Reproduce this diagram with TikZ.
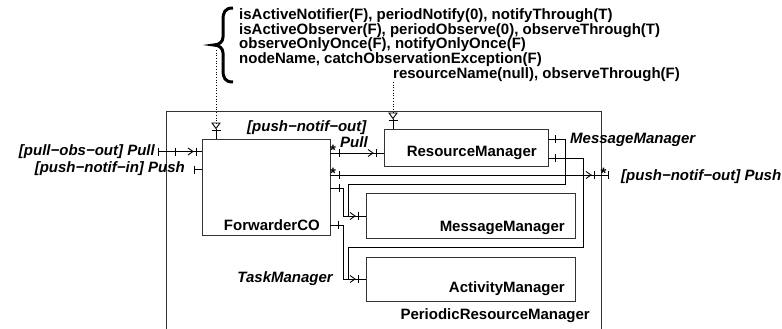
\documentclass[tikz,border=0pt]{standalone}
\usepackage{fontspec}
\setmainfont{Liberation Sans}
\newcommand\PortBar[2]{\draw[con] (#1,#2-4) -- (#1,#2+4);}
\newcommand\OpenArr[2]{\draw[con] (#1-5,#2-3.5) -- (#1,#2) -- (#1-5,#2+3.5);}
\newcommand\TopPort[2]{\draw[con] (#1-4,#2) -- (#1+4,#2) -- (#1,#2+5.5) -- cycle; \draw[con] (#1-4.5,#2+7) -- (#1+4.5,#2+7);}
\begin{document}
\begin{tikzpicture}[x=1pt,y=-1pt,
  box/.style={draw=black!80, line width=0.9pt, rectangle, inner sep=0pt},
  con/.style={draw=black, line width=0.9pt},
  lbl/.style={font=\fontsize{15}{15}\selectfont\bfseries, inner sep=0pt},
  ilbl/.style={font=\fontsize{15}{15}\selectfont\bfseries\itshape, inner sep=0pt},
  dotl/.style={draw=black, dotted, line width=0.7pt}]
\useasboundingbox (0,0) rectangle (782,329);

% boxes
\node[box, minimum width=435.7pt, minimum height=225pt] (prm) at (383.85,223.5) {};
\node[box, minimum width=128pt, minimum height=96pt] (fwd) at (266,187) {};
\node[box, minimum width=164pt, minimum height=36.7pt] (rm) at (466,147.65) {};
\node[box, minimum width=209pt, minimum height=45pt] (mm) at (470.5,215.8) {};
\node[box, minimum width=209pt, minimum height=44.4pt] (am) at (470.5,279.5) {};

% box labels
\node[lbl, anchor=base east] (fwdl) at (320,230) {ForwarderCO};
\node[lbl, anchor=base east] (rml) at (537,156.7) {ResourceManager};
\node[lbl, anchor=base east] (mml) at (565,231) {MessageManager};
\node[lbl, anchor=base east] (aml) at (565,292) {ActivityManager};
\node[lbl, anchor=base east] (prml) at (590,319) {PeriodicResourceManager};

% attribute text
\node[lbl, anchor=base west] (t1) at (239,20) {isActiveNotifier(F), periodNotify(0), notifyThrough(T)};
\node[lbl, anchor=base west] (t2) at (239,34.5) {isActiveObserver(F), periodObserve(0), observeThrough(T)};
\node[lbl, anchor=base west] (t3) at (239,49) {observeOnlyOnce(F), notifyOnlyOnce(F)};
\node[lbl, anchor=base west] (t4) at (239,63.5) {nodeName, catchObservationException(F)};
\node[lbl, anchor=base west] (t5) at (393,78) {resourceName(null), observeThrough(F)};

% brace
\draw[line width=3pt] (233,8) .. controls (225,8) and (223,12) .. (223,20) -- (223,37)
  .. controls (223,42) and (219,45) .. (213.5,45)
  .. controls (219,45) and (223,48) .. (223,53) -- (223,70)
  .. controls (223,78) and (225,82) .. (233,82);

% italic labels
\node[ilbl, anchor=base east] (lpull) at (155,155) {[pull−obs−out] Pull};
\node[ilbl, anchor=base east] (lpush) at (185,172) {[push−notif−in] Push};
\node[ilbl, anchor=base west] (rpush) at (621,180) {[push−notif−out] Push};
\node[ilbl, anchor=base west] (mpno) at (247,131) {[push−notif−out]};
\node[ilbl, anchor=base west] (mpull) at (340,147) {Pull};
\node[ilbl, anchor=base west] (rmmm) at (570,143.5) {MessageManager};
\node[ilbl, anchor=base east] (tm) at (333,282.5) {TaskManager};

% stars
\node[lbl, anchor=base] (s1) at (333,155.3) {*};
\node[lbl, anchor=base] (s2) at (333,178.6) {*};
\node[lbl, anchor=base] (s3) at (603.5,178.6) {*};

% coordinates
\coordinate (pullin) at (158,151.5);
\coordinate (pushin) at (194,169.5);
\coordinate (pushout) at (608,175);

% left connectors
\draw[con] (pullin) -- (fwd.west |- pullin);
\PortBar{158}{151.5} \PortBar{175}{151.5} \OpenArr{193}{151.5} \PortBar{196}{151.5}
\draw[con] (pushin) -- (fwd.west |- pushin);
\PortBar{194}{169.5}

% forwarder -> resource manager
\draw[con] (fwd.east |- 0,153) -- (rm.west |- 0,153);
\PortBar{339}{153} \OpenArr{373}{153} \PortBar{376}{153}

% push out
\draw[con] (fwd.east |- pushout) -- (pushout);
\PortBar{339}{175} \OpenArr{591}{175} \PortBar{594}{175} \PortBar{608}{175}

% to message manager
\draw[con] (fwd.east |- 0,188) -- (343,188) -- (343,216) -- (mm.west |- 0,216);
\PortBar{339}{188}
\draw[con] (rm.east |- 0,139) -- (565,139) -- (565,184) -- (348,184) -- (348,216) -- (mm.west |- 0,216);
\PortBar{555}{139}
\OpenArr{355}{216} \PortBar{358}{216}

% to activity manager
\draw[con] (rm.east |- 0,158) -- (583,158) -- (583,247) -- (348,247) -- (348,279) -- (am.west |- 0,279);
\PortBar{555}{158}
\draw[con] (fwd.east |- 0,225) -- (343,225) -- (343,279) -- (am.west |- 0,279);
\PortBar{338}{225}
\OpenArr{355}{279} \PortBar{358}{279}

% top ports with dotted links
\draw[dotl] (216,50) -- (216,123);
\TopPort{216}{123}
\draw[con] (216,128.5) -- (216,0 |- fwd.north);
\draw[dotl] (393,82) -- (393,113);
\TopPort{393}{113}
\draw[con] (393,118.5) -- (393,0 |- rm.north);
\end{tikzpicture}
\end{document}
